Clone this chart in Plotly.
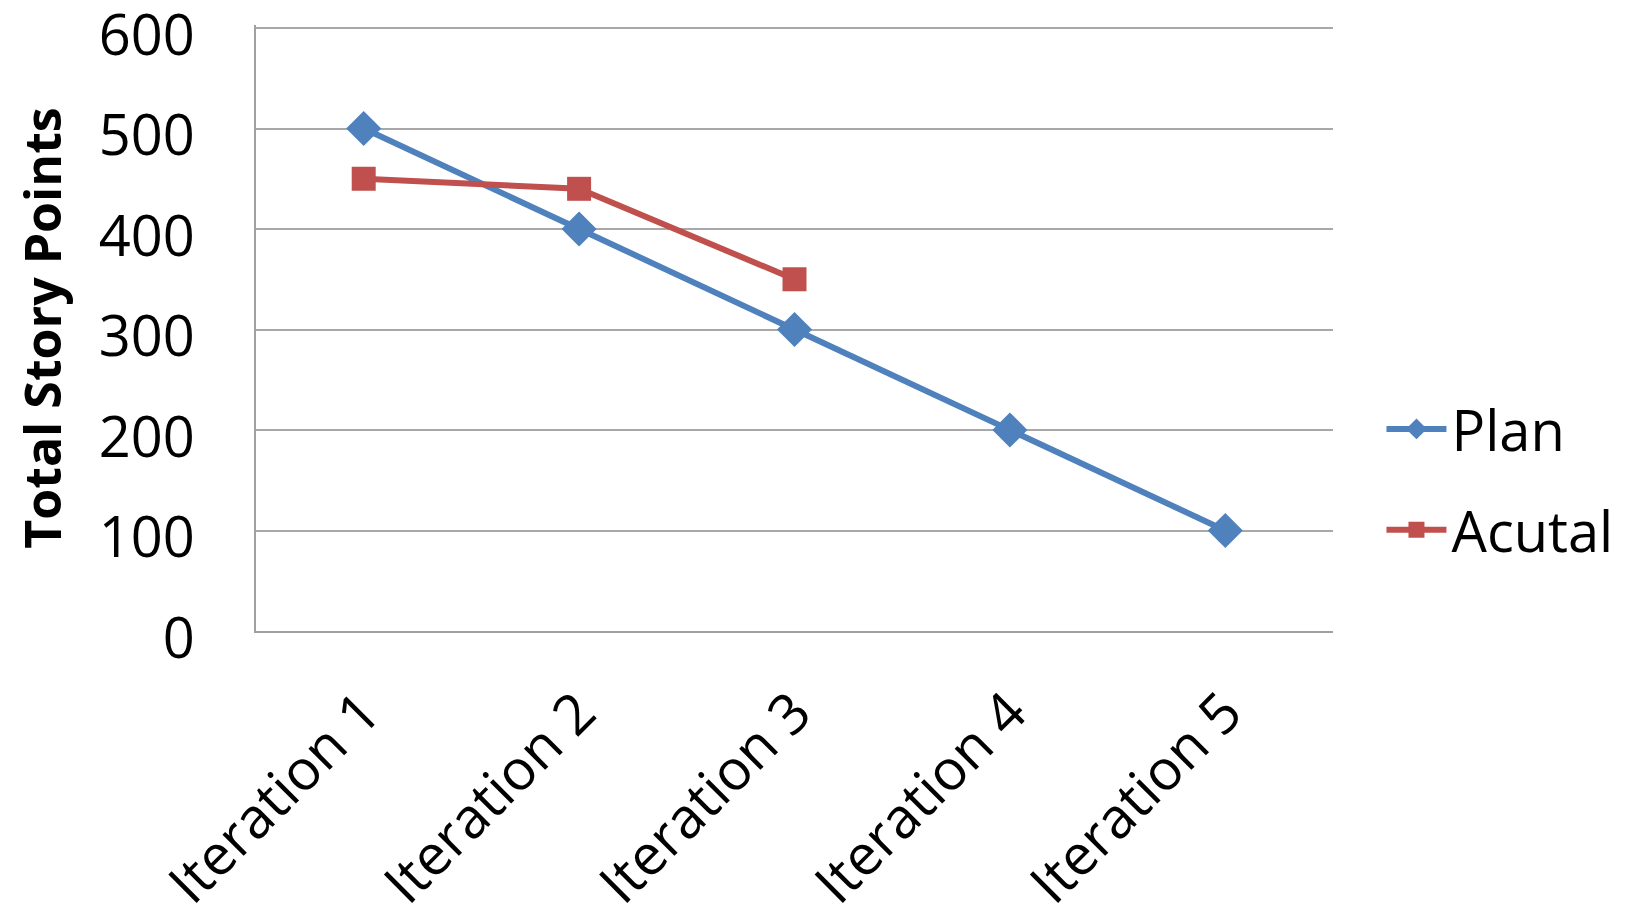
import plotly.graph_objects as go

categories = ["Iteration 1", "Iteration 2", "Iteration 3", "Iteration 4", "Iteration 5"]
plan = [500, 400, 300, 200, 100]
actual = [450, 440, 350, None, None]
y_ticks = [0, 100, 200, 300, 400, 500, 600]

FONT = "Open Sans"

fig = go.Figure()
fig.add_trace(go.Scatter(
    x=categories, y=plan, name="Plan", mode="lines+markers", legendgroup="a",
    line=dict(color="#4F81BD", width=6),
    marker=dict(symbol="diamond", size=27, color="#4F81BD"),
))
fig.add_trace(go.Scatter(
    x=categories, y=actual, name="Acutal", mode="lines+markers", legendgroup="b",
    line=dict(color="#C0504D", width=6),
    marker=dict(symbol="square", size=24, color="#C0504D"),
))

# page body has an 8px default margin, so the figure is 8px smaller
fig.update_layout(
    width=1623, height=914,
    paper_bgcolor="white", plot_bgcolor="white",
    margin=dict(l=248, r=298, t=17, b=291, autoexpand=False),
    font=dict(family=FONT, color="black", size=56),
    legend=dict(x=1.045, y=0.25, xanchor="left", yanchor="middle",
                font=dict(size=56, family=FONT), itemwidth=60,
                tracegroupgap=25),
    showlegend=True,
)
fig.update_xaxes(
    type="category", range=[-0.5, 4.5], automargin=False,
    tickangle=-45, tickfont=dict(size=56, family=FONT),
    showgrid=False, showline=True, linecolor="#A0A0A0", linewidth=2,
    ticks="", ticklabelstandoff=24, ticklabeloverflow="allow",
)
fig.update_yaxes(
    range=[0, 603], tickvals=y_ticks, automargin=False,
    tickfont=dict(size=56, family=FONT),
    showgrid=True, gridcolor="#A8A8A8", gridwidth=2,
    showline=True, linecolor="#A0A0A0", linewidth=2,
    zeroline=False, ticks="", ticklabelstandoff=48, ticklabelshift=7,
    ticklabeloverflow="allow",
    title=dict(text="<b>Total Story Points</b>", font=dict(size=50, family=FONT), standoff=38),
)

fig.write_html("out.html")
